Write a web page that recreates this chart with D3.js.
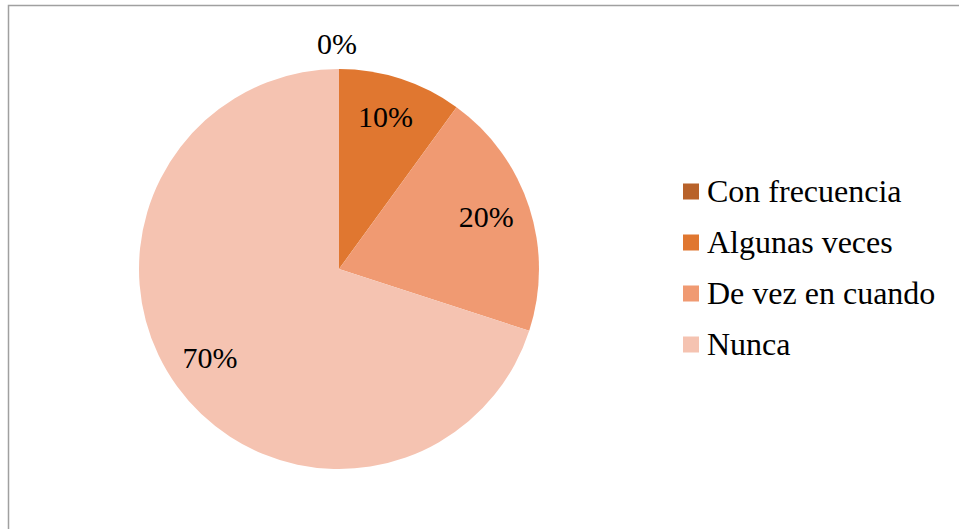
<!DOCTYPE html>
<html>
<head>
<meta charset="utf-8">
<script src="https://cdn.jsdelivr.net/npm/d3@7"></script>
</head>
<body style="margin:0; background:#fff">
<svg id="chart"></svg>
<script>
var categories = ["Con frecuencia", "Algunas veces", "De vez en cuando", "Nunca"]
var values = [0, 10, 20, 70]
var colors = ["#B8622A", "#E07730", "#F09A72", "#F5C3B1"]

var dimensions = {
    width: 959,
    height: 529,
    cx: 339,
    cy: 269,
    radius: 200
}

var svg = d3.select("#chart")
    .attr("width", dimensions.width)
    .attr("height", dimensions.height)
    .style("display", "block")

// frame (only top and left edge visible in the picture)
svg.append("rect")
    .attr("x", 8.5)
    .attr("y", 5.5)
    .attr("width", 1000)
    .attr("height", 600)
    .attr("fill", "none")
    .attr("stroke", "#a0a0a0")
    .attr("stroke-width", 1.5)

var dataset = categories.map((c, i) => ({ name: c, value: values[i], color: colors[i] }))

var pie = d3.pie()
    .value(d => d.value)
    .sort(null)

var arc = d3.arc()
    .innerRadius(0)
    .outerRadius(dimensions.radius)

var labelArc = d3.arc()
    .innerRadius(157)
    .outerRadius(157)

var outerLabelArc = d3.arc()
    .innerRadius(222)
    .outerRadius(222)

var g = svg.append("g")
    .attr("transform", `translate(${dimensions.cx},${dimensions.cy})`)

var arcs = pie(dataset)

g.selectAll("path")
    .data(arcs)
    .enter()
    .append("path")
    .attr("d", arc)
    .attr("fill", d => d.data.color)

g.selectAll("text")
    .data(arcs)
    .enter()
    .append("text")
    .attr("transform", d => {
        var p = d.data.value < 3 ? outerLabelArc.centroid(d) : labelArc.centroid(d)
        return `translate(${p[0] - 2},${p[1] - 3})`
    })
    .attr("text-anchor", "middle")
    .attr("dy", "0.33em")
    .attr("font-family", "Liberation Serif")
    .attr("font-size", 30)
    .attr("fill", "#000")
    .text(d => d.data.value + "%")

// legend
var legendY = d3.scaleBand()
    .domain(categories)
    .range([166, 370])

var legend = svg.append("g")
    .attr("transform", "translate(683,0)")

var rows = legend.selectAll("g")
    .data(dataset)
    .enter()
    .append("g")
    .attr("transform", d => `translate(0,${legendY(d.name) + legendY.bandwidth() / 2})`)

rows.append("rect")
    .attr("x", 0)
    .attr("y", -8)
    .attr("width", 16)
    .attr("height", 16)
    .attr("fill", d => d.color)

rows.append("text")
    .attr("x", 24)
    .attr("y", 10)
    .attr("font-family", "Liberation Serif")
    .attr("font-size", 32)
    .attr("fill", "#000")
    .text(d => d.name)
</script>
</body>
</html>
